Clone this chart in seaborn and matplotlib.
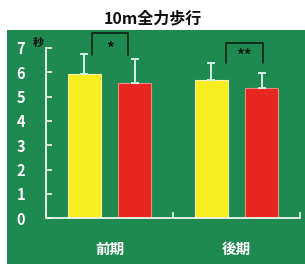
import matplotlib
matplotlib.use("Agg")
import matplotlib.pyplot as plt
import seaborn as sns
import pandas as pd
import numpy as np
from matplotlib.patches import Rectangle

# ---- data ----
periods = ["前期", "後期"]
groups = ["群1", "群2"]
means_g1 = [5.94, 5.69]
means_g2 = [5.58, 5.35]
sd_g1 = [0.82, 0.69]
sd_g2 = [0.96, 0.64]
sig_labels = ["*", "**"]
yticks = [0, 1, 2, 3, 4, 5, 6, 7]

GREEN = "#1e8a50"
YELLOW = "#f6ee1e"
RED = "#e6261f"

df = pd.DataFrame({
    "period": periods * 2,
    "group": [groups[0]] * 2 + [groups[1]] * 2,
    "value": means_g1 + means_g2,
})
sds = sd_g1 + sd_g2

sns.set_theme(style="white")
plt.rcParams["font.family"] = ["Noto Sans CJK JP", "DejaVu Sans"]

fig = plt.figure(figsize=(3.05, 2.64), dpi=100)
fig.patch.set_facecolor("white")
bg = Rectangle((7 / 305, 0), 1, 1 - 30 / 264, transform=fig.transFigure,
               facecolor=GREEN, edgecolor="none", zorder=-10)
fig.add_artist(bg)

ax = fig.add_axes([46 / 305, 1 - 218.3 / 264, 254 / 305, (218.3 - 48) / 264])
ax.set_facecolor("none")
ax.set_zorder(5)

sns.barplot(data=df, x="period", y="value", hue="group", order=periods, hue_order=groups,
            palette=[YELLOW, RED], saturation=1, width=0.79, gap=0.34, errorbar=None,
            legend=False, ax=ax)

edge_cols = {YELLOW: "#f8f4b0", RED: "#f08a80"}
for i, p in enumerate(ax.patches[:4]):
    col = YELLOW if i < 2 else RED
    p.set_edgecolor(edge_cols[col])
    p.set_linewidth(0.8)
    cx = p.get_x() + p.get_width() / 2
    h = p.get_height()
    ax.errorbar([cx], [h], yerr=[[0], [sds[i]]], fmt="none", ecolor="#d4efe6",
                elinewidth=1.4, capsize=3.2, capthick=1.4, zorder=3)

# significance brackets
brackets = [(-0.138, 0.146, 6.73, 7.6, 6.98), (0.917, 1.206, 6.4, 7.21, 6.68)]
for (x0, x1, ylow, ytop, ys), lab in zip(brackets, sig_labels):
    ax.plot([x0, x0, x1, x1], [ylow, ytop, ytop, ylow], color="#082a18", lw=1.3,
            clip_on=False, zorder=4)
    ax.text((x0 + x1) / 2, ys, lab, ha="center", va="center", color="#081a10",
            fontsize=11, fontweight="bold", clip_on=False)

ax.set_xlim(-0.5, 1.5)
ax.set_ylim(0, 7)
ax.set_yticks(yticks)
ax.set_yticklabels([str(t) for t in yticks])
ax.set_xlabel("")
ax.set_ylabel("")

for s in ["top", "right"]:
    ax.spines[s].set_visible(False)
for s in ["left", "bottom"]:
    ax.spines[s].set_color("#f2f6ee")
    ax.spines[s].set_linewidth(1.3)

ax.tick_params(axis="y", direction="in", length=4, width=1.2, color="#f2f6ee",
               labelcolor="white", labelsize=10.5, pad=15, left=True)
for lbl in ax.get_yticklabels():
    lbl.set_fontweight("bold")
ax.tick_params(axis="x", which="major", length=0, pad=16, labelcolor="white", labelsize=10.5)
for lbl in ax.get_xticklabels():
    lbl.set_fontweight("bold")
ax.set_xticks([-0.5, 0.5, 1.5], minor=True)
ax.tick_params(axis="x", which="minor", direction="in", length=4, width=1.2,
               color="#f2f6ee", bottom=True)

ax.text(-0.03, 1.035, "秒", transform=ax.transAxes, ha="center", va="center",
        color="#101010", fontsize=8, fontweight="bold")

fig.text(0.5, 1 - 18 / 264, "10m全力歩行", ha="center", va="center", color="#101010",
         fontsize=11.5, fontweight="bold")

fig.savefig("out.png", dpi=100)
